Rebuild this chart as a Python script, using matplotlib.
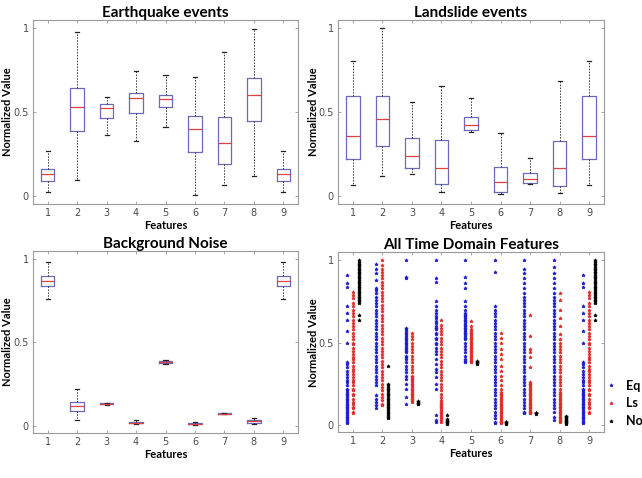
import numpy as np
import matplotlib
matplotlib.use('Agg')
from matplotlib import pyplot as plt

features = [1, 2, 3, 4, 5, 6, 7, 8, 9]

# box statistics per feature: lower whisker, q1, median, q3, upper whisker
eq_lo = [0.024, 0.099, 0.364, 0.327, 0.416, 0.010, 0.069, 0.123, 0.024]
eq_q1 = [0.089, 0.390, 0.465, 0.499, 0.531, 0.263, 0.194, 0.451, 0.089]
eq_med = [0.133, 0.535, 0.525, 0.584, 0.582, 0.400, 0.317, 0.606, 0.133]
eq_q3 = [0.164, 0.646, 0.549, 0.618, 0.606, 0.477, 0.471, 0.705, 0.164]
eq_hi = [0.273, 0.976, 0.594, 0.749, 0.721, 0.711, 0.861, 0.998, 0.273]

ls_lo = [0.069, 0.123, 0.135, 0.024, 0.382, 0.014, 0.075, 0.020, 0.069]
ls_q1 = [0.222, 0.301, 0.172, 0.073, 0.396, 0.028, 0.079, 0.063, 0.222]
ls_med = [0.362, 0.459, 0.238, 0.172, 0.426, 0.083, 0.103, 0.172, 0.360]
ls_q3 = [0.596, 0.596, 0.347, 0.333, 0.473, 0.174, 0.139, 0.329, 0.596]
ls_hi = [0.808, 1.000, 0.564, 0.657, 0.584, 0.380, 0.228, 0.685, 0.808]

bn_lo = [0.760, 0.036, 0.126, 0.008, 0.372, 0.004, 0.068, 0.010, 0.760]
bn_q1 = [0.840, 0.086, 0.128, 0.014, 0.378, 0.008, 0.070, 0.018, 0.840]
bn_med = [0.870, 0.116, 0.132, 0.018, 0.384, 0.012, 0.072, 0.026, 0.870]
bn_q3 = [0.900, 0.144, 0.136, 0.024, 0.390, 0.016, 0.074, 0.034, 0.900]
bn_hi = [0.984, 0.218, 0.138, 0.036, 0.394, 0.020, 0.076, 0.046, 0.984]

# raw feature values
eq_f1 = [0.01, 0.02, 0.03, 0.04, 0.05, 0.06, 0.07, 0.08, 0.09, 0.10, 0.11, 0.12, 0.13, 0.14,
         0.15, 0.16, 0.17, 0.18, 0.19, 0.20, 0.21, 0.22, 0.24, 0.26, 0.27, 0.29, 0.31, 0.33,
         0.35, 0.37, 0.38, 0.50, 0.57, 0.64, 0.68, 0.72, 0.84, 0.86, 0.91]
ls_f1 = [0.07, 0.08, 0.10, 0.11, 0.13, 0.14, 0.16, 0.18, 0.19, 0.21, 0.22, 0.24, 0.26, 0.27,
         0.29, 0.31, 0.33, 0.34, 0.36, 0.38, 0.40, 0.41, 0.43, 0.45, 0.47, 0.49, 0.50, 0.52,
         0.54, 0.56, 0.58, 0.60, 0.62, 0.64, 0.66, 0.68, 0.70, 0.72, 0.74, 0.77, 0.79, 0.81]
bn_f1 = [0.64, 0.67, 0.74, 0.75, 0.76, 0.77, 0.78, 0.79, 0.80, 0.81, 0.82, 0.83, 0.84, 0.85,
         0.86, 0.87, 0.88, 0.89, 0.90, 0.91, 0.92, 0.93, 0.94, 0.95, 0.96, 0.97, 0.98, 0.99, 1.0]

eq_pts = [
    eq_f1,
    [0.10, 0.12, 0.14, 0.16, 0.18, 0.24, 0.26, 0.28, 0.30, 0.32, 0.34, 0.36, 0.38, 0.40, 0.42,
     0.44, 0.46, 0.48, 0.50, 0.52, 0.54, 0.56, 0.58, 0.60, 0.62, 0.64, 0.66, 0.68, 0.70, 0.72,
     0.74, 0.76, 0.78, 0.80, 0.82, 0.83, 0.88, 0.92, 0.95, 0.98],
    [0.13, 0.17, 0.22, 0.25, 0.28, 0.30, 0.32, 0.34, 0.36, 0.38, 0.40, 0.41, 0.42, 0.44, 0.45,
     0.46, 0.47, 0.48, 0.49, 0.50, 0.51, 0.52, 0.53, 0.54, 0.55, 0.56, 0.57, 0.58, 0.59, 0.89,
     0.90, 1.0],
    [0.02, 0.03, 0.06, 0.22, 0.25, 0.29, 0.32, 0.34, 0.37, 0.40, 0.43, 0.45, 0.47, 0.49, 0.50,
     0.52, 0.53, 0.55, 0.56, 0.58, 0.59, 0.60, 0.62, 0.63, 0.65, 0.66, 0.68, 0.70, 0.72, 0.75,
     0.87, 0.89, 1.0],
    [0.38, 0.39, 0.40, 0.42, 0.44, 0.46, 0.48, 0.50, 0.52, 0.53, 0.54, 0.55, 0.56, 0.57, 0.58,
     0.59, 0.60, 0.61, 0.62, 0.63, 0.64, 0.65, 0.66, 0.67, 0.68, 0.70, 0.72, 0.75, 0.83, 0.86,
     0.90, 1.0],
    [0.01, 0.02, 0.04, 0.06, 0.08, 0.10, 0.12, 0.14, 0.16, 0.18, 0.20, 0.22, 0.24, 0.26, 0.28,
     0.30, 0.32, 0.34, 0.36, 0.38, 0.40, 0.42, 0.44, 0.46, 0.48, 0.50, 0.52, 0.54, 0.56, 0.58,
     0.60, 0.62, 0.64, 0.66, 0.68, 0.70, 0.72, 0.93, 1.0],
    [0.07, 0.08, 0.10, 0.12, 0.14, 0.16, 0.18, 0.20, 0.22, 0.24, 0.26, 0.28, 0.30, 0.32, 0.34,
     0.36, 0.38, 0.40, 0.42, 0.44, 0.46, 0.48, 0.50, 0.52, 0.54, 0.56, 0.58, 0.60, 0.62, 0.64,
     0.66, 0.68, 0.70, 0.72, 0.74, 0.76, 0.78, 0.80, 0.83, 0.86, 0.89, 0.92, 0.95, 1.0],
    [0.03, 0.05, 0.08, 0.10, 0.12, 0.14, 0.16, 0.18, 0.20, 0.22, 0.24, 0.26, 0.28, 0.30, 0.32,
     0.34, 0.36, 0.38, 0.40, 0.42, 0.44, 0.46, 0.48, 0.50, 0.52, 0.54, 0.56, 0.58, 0.60, 0.62,
     0.64, 0.66, 0.68, 0.70, 0.72, 0.74, 0.76, 0.78, 0.80, 0.83, 0.86, 0.89, 0.92, 0.96, 1.0],
    eq_f1,
]
ls_pts = [
    ls_f1,
    [0.12, 0.13, 0.15, 0.17, 0.19, 0.21, 0.23, 0.25, 0.27, 0.29, 0.31, 0.33, 0.35, 0.37, 0.39,
     0.41, 0.43, 0.45, 0.47, 0.49, 0.51, 0.53, 0.55, 0.57, 0.59, 0.61, 0.63, 0.65, 0.67, 0.69,
     0.71, 0.73, 0.75, 0.77, 0.79, 0.81, 0.83, 0.85, 0.87, 0.89, 0.91, 0.93, 0.95, 0.97, 1.0],
    [0.14, 0.15, 0.16, 0.17, 0.18, 0.19, 0.20, 0.21, 0.22, 0.23, 0.24, 0.25, 0.26, 0.27, 0.28,
     0.29, 0.30, 0.32, 0.34, 0.36, 0.38, 0.40, 0.42, 0.44, 0.46, 0.48, 0.50, 0.52, 0.54, 0.56],
    [0.02, 0.03, 0.04, 0.05, 0.06, 0.07, 0.08, 0.09, 0.10, 0.11, 0.12, 0.13, 0.14, 0.15, 0.17,
     0.19, 0.21, 0.23, 0.25, 0.27, 0.29, 0.31, 0.33, 0.35, 0.37, 0.39, 0.41, 0.43, 0.45, 0.47,
     0.49, 0.51, 0.53, 0.55, 0.57, 0.59, 0.61, 0.64],
    [0.38, 0.39, 0.40, 0.41, 0.42, 0.43, 0.44, 0.45, 0.46, 0.47, 0.48, 0.49, 0.50, 0.51, 0.52,
     0.53, 0.54, 0.55, 0.56, 0.57, 0.58, 0.60, 0.63],
    [0.01, 0.015, 0.02, 0.03, 0.04, 0.05, 0.06, 0.07, 0.08, 0.09, 0.10, 0.11, 0.12, 0.13, 0.14,
     0.15, 0.16, 0.17, 0.18, 0.19, 0.20, 0.22, 0.24, 0.27, 0.30, 0.33, 0.36, 0.40, 0.43, 0.46,
     0.50, 0.53, 0.56],
    [0.07, 0.075, 0.08, 0.09, 0.10, 0.11, 0.12, 0.13, 0.14, 0.15, 0.16, 0.17, 0.18, 0.19, 0.20,
     0.21, 0.22, 0.23, 0.24, 0.25, 0.26, 0.35, 0.41, 0.44, 0.46, 0.54, 0.67],
    [0.02, 0.025, 0.03, 0.04, 0.05, 0.06, 0.07, 0.08, 0.09, 0.10, 0.11, 0.12, 0.13, 0.14, 0.15,
     0.16, 0.17, 0.18, 0.19, 0.20, 0.22, 0.24, 0.26, 0.28, 0.30, 0.32, 0.34, 0.36, 0.38, 0.40,
     0.42, 0.44, 0.46, 0.48, 0.50, 0.52, 0.55, 0.60, 0.65, 0.70, 0.76, 0.80],
    ls_f1,
]
bn_pts = [
    bn_f1,
    [0.04, 0.05, 0.06, 0.07, 0.08, 0.09, 0.10, 0.11, 0.12, 0.13, 0.14, 0.15, 0.16, 0.17, 0.18,
     0.19, 0.20, 0.21, 0.22, 0.23, 0.24, 0.25, 0.36],
    [0.125, 0.13, 0.135, 0.14, 0.145],
    [0.005, 0.01, 0.015, 0.02, 0.025, 0.03, 0.035, 0.06],
    [0.37, 0.375, 0.38, 0.385, 0.39],
    [0.005, 0.01, 0.015, 0.02],
    [0.068, 0.07, 0.072, 0.074],
    [0.005, 0.01, 0.015, 0.02, 0.025, 0.03, 0.035, 0.04, 0.045, 0.05, 0.055],
    bn_f1,
]

title_font = {'family': 'Lato', 'weight': 'bold', 'size': 11}
label_font = {'family': 'Lato', 'weight': 'bold', 'size': 8}
frame_col = '#9a9a9a'
tick_col = '#4a4a4a'


def style_axes(ax, title, ylab_x):
    ax.set_xlim(0.5, 9.5)
    ax.set_ylim(-0.045, 1.05)
    ax.set_xticks(features)
    ax.set_xticklabels([str(f) for f in features])
    ax.set_yticks([0, 0.5, 1])
    ax.set_yticklabels(['0', '0.5', '1'])
    ax.tick_params(direction='in', length=2.5, width=0.6, colors=frame_col,
                   labelcolor=tick_col, labelsize=7, top=True, right=True, pad=3)
    for sp in ax.spines.values():
        sp.set_color(frame_col)
        sp.set_linewidth(0.8)
    ax.set_title(title, fontdict=title_font, pad=2)
    ax.set_xlabel('Features', fontdict=label_font, labelpad=1)
    ax.set_ylabel('Normalized Value', fontdict=label_font)
    ax.yaxis.set_label_coords(ylab_x, 0.5)


def draw_boxes(ax, lo, q1, med, q3, hi):
    stats = [{'whislo': lo[i], 'q1': q1[i], 'med': med[i], 'q3': q3[i], 'whishi': hi[i]}
             for i in range(len(features))]
    ax.bxp(stats, positions=features, widths=0.46, showfliers=False,
           boxprops={'color': '#6a6ab8', 'linewidth': 0.9},
           medianprops={'color': '#e04040', 'linewidth': 0.9},
           whiskerprops={'color': '#333333', 'linewidth': 0.7, 'linestyle': (0, (1.5, 1.5))},
           capprops={'color': '#222222', 'linewidth': 0.9}, capwidths=0.14)


fig = plt.figure(figsize=(6.42, 4.78), dpi=100)
ax1 = fig.add_axes([0.0514, 0.5732, 0.4128, 0.385])
ax2 = fig.add_axes([0.5265, 0.5732, 0.4143, 0.385])
ax3 = fig.add_axes([0.0514, 0.0941, 0.4128, 0.381])
ax4 = fig.add_axes([0.5265, 0.0956, 0.4143, 0.377])

draw_boxes(ax1, eq_lo, eq_q1, eq_med, eq_q3, eq_hi)
style_axes(ax1, 'Earthquake events', -0.075)
draw_boxes(ax2, ls_lo, ls_q1, ls_med, ls_q3, ls_hi)
style_axes(ax2, 'Landslide events', -0.07)
draw_boxes(ax3, bn_lo, bn_q1, bn_med, bn_q3, bn_hi)
style_axes(ax3, 'Background Noise', -0.075)

for i, f in enumerate(features):
    ax4.plot(np.full(len(eq_pts[i]), f - 0.2), eq_pts[i], '*', color='#1a1ad0', ms=2.6, mew=0.5,
             label='Eq' if i == 0 else None)
    ax4.plot(np.full(len(ls_pts[i]), f), ls_pts[i], '*', color='#e02a2a', ms=2.6, mew=0.5,
             label='Ls' if i == 0 else None)
    ax4.plot(np.full(len(bn_pts[i]), f + 0.2), bn_pts[i], '*', color='black', ms=2.6, mew=0.5,
             label='Noi' if i == 0 else None)
style_axes(ax4, 'All Time Domain Features', -0.07)
leg = ax4.legend(loc='upper left', bbox_to_anchor=(0.98, 0.32), frameon=False,
                 prop={'family': 'Lato', 'weight': 'bold', 'size': 9},
                 handlelength=1.2, handletextpad=0.6, labelspacing=0.45, borderaxespad=0)

fig.savefig('out.png', dpi=100)
